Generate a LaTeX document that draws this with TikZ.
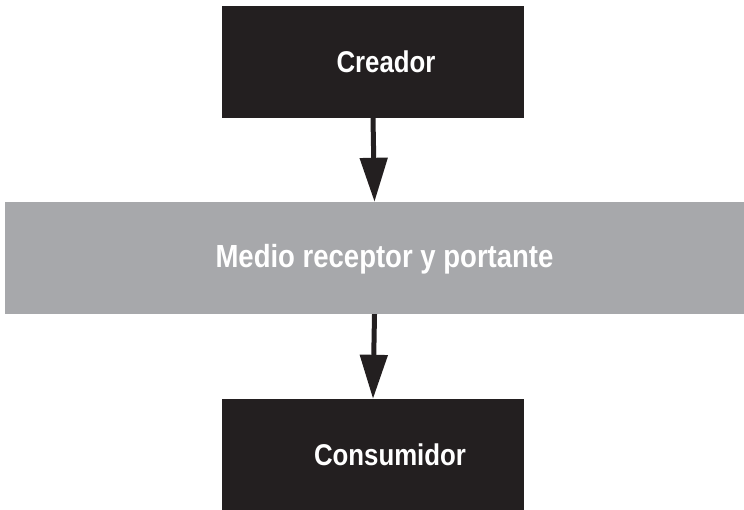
\documentclass[tikz,border=0pt]{standalone}
\usepackage{fontspec}
\newfontfamily\boxfont[FakeStretch=0.86]{Liberation Sans}
\usetikzlibrary{positioning,arrows.meta}
\definecolor{boxdark}{HTML}{231F20}
\definecolor{boxgray}{HTML}{A7A8AB}

\begin{document}
\begin{tikzpicture}[x=1pt,y=1pt,
  darkbox/.style={fill=boxdark, draw=none, minimum width=302pt, minimum height=112pt, inner sep=0pt},
  graybox/.style={fill=boxgray, draw=none, minimum width=739pt, minimum height=112pt, inner sep=0pt},
  boxlabel/.style={text=white, font=\boxfont\bfseries\fontsize{30}{36}\selectfont, inner sep=0pt},
  flow/.style={draw=boxdark, line width=5pt, -{Triangle[length=44pt,width=27pt]}}]
\useasboundingbox (0,0) rectangle (744,-510);
\node[darkbox] (creador) at (373,-62) {};
\node[boxlabel] at ([xshift=13pt]creador.center) {Creador};
\node[graybox] (medio) at (374.5,-258) {};
\node[boxlabel, font=\boxfont\bfseries\fontsize{32}{38}\selectfont] at ([xshift=10pt,yshift=-1pt]medio.center) {Medio receptor y portante};
\node[darkbox, minimum height=111pt] (consumidor) at (373,-454.5) {};
\node[boxlabel] at ([xshift=17pt]consumidor.center) {Consumidor};
\draw[flow] (creador.south) -- (medio.north);
\draw[flow] (medio.south) -- (consumidor.north);
\end{tikzpicture}
\end{document}
